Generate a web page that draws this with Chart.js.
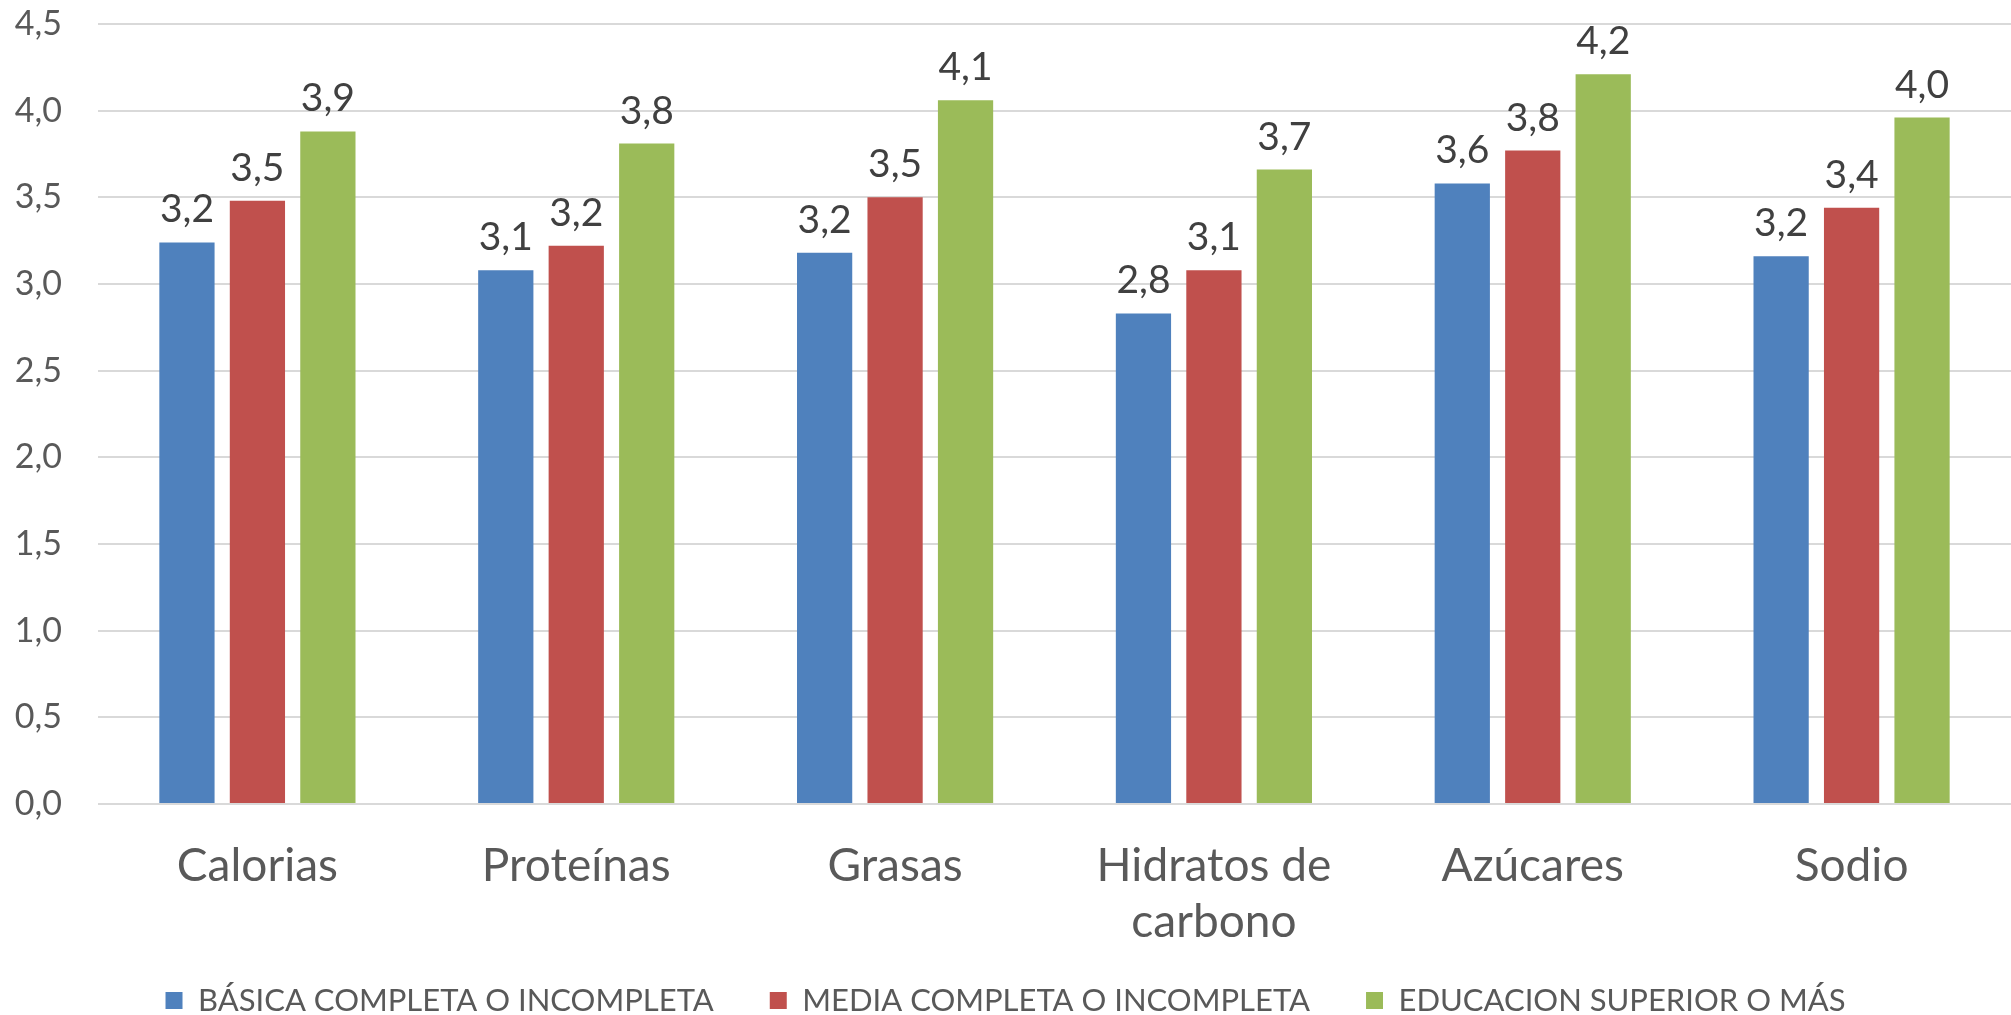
<!DOCTYPE html>
<html>
<head>
<meta charset="utf-8">
<script src="https://cdn.jsdelivr.net/npm/chart.js@4"></script>
<style>
    html, body { margin: 0; padding: 0; background: #fff; }
    #wrap { width: 2011px; height: 1015px; }
</style>
</head>
<body>
<div id="wrap"><canvas id="chart"></canvas></div>
<script>
const categories = ["Calorias", "Proteínas", "Grasas", ["Hidratos de", "carbono"], "Azúcares", "Sodio"];
const basica = [3.24, 3.08, 3.18, 2.83, 3.58, 3.16];
const media = [3.48, 3.22, 3.50, 3.08, 3.77, 3.44];
const superior = [3.88, 3.81, 4.06, 3.66, 4.21, 3.96];
const seriesNames = ["BÁSICA COMPLETA O INCOMPLETA", "MEDIA COMPLETA O INCOMPLETA", "EDUCACION SUPERIOR O MÁS"];

const FONT = "Lato, 'Open Sans', sans-serif";

function fmt(v) {
    return Number(v).toFixed(1).replace('.', ',');
}

// draws the value above each bar
const valueLabels = {
    id: 'valueLabels',
    afterDatasetsDraw(chart) {
        const ctx = chart.ctx;
        ctx.save();
        ctx.font = "39px " + FONT;
        ctx.fillStyle = "#404040";
        ctx.textAlign = "center";
        ctx.textBaseline = "alphabetic";
        chart.data.datasets.forEach((ds, i) => {
            chart.getDatasetMeta(i).data.forEach((bar, j) => {
                ctx.fillText(fmt(ds.data[j]), bar.x, bar.y - 20);
            });
        });
        ctx.restore();
    }
};

const ds = (label, data, color) => ({
    label: label, data: data, backgroundColor: color,
    barPercentage: 0.784, categoryPercentage: 0.663
});

new Chart(document.getElementById("chart"), {
    type: 'bar',
    data: {
        labels: categories,
        datasets: [
            ds(seriesNames[0], basica, "#4F81BD"),
            ds(seriesNames[1], media, "#C0504D"),
            ds(seriesNames[2], superior, "#9BBB59")
        ]
    },
    options: {
        responsive: true,
        maintainAspectRatio: false,
        animation: false,
        layout: { padding: { top: 24, right: 0, left: 0, bottom: -11 } },
        plugins: {
            tooltip: { enabled: false },
            legend: {
                position: 'bottom',
                labels: {
                    boxWidth: 17, boxHeight: 17, padding: 56,
                    color: "#595959",
                    font: { family: FONT, size: 31 }
                }
            }
        },
        scales: {
            x: {
                grid: { display: false },
                border: { display: false },
                ticks: {
                    color: "#595959",
                    padding: 27,
                    maxRotation: 0,
                    font: { family: FONT, size: 46, lineHeight: 1.2 }
                },
                afterFit(scale) {
                    scale.height = 125;
                    // let the two-line label run below the axis box
                    scale._computeLabelArea = () => null;
                }
            },
            y: {
                min: 0, max: 4.5,
                grid: { color: "#D9D9D9", lineWidth: 2, drawTicks: false },
                border: { display: false },
                ticks: {
                    stepSize: 0.5,
                    color: "#595959",
                    padding: 36,
                    font: { family: FONT, size: 34 },
                    callback: v => fmt(v)
                },
                afterFit(scale) {
                    scale.width = 98;
                    scale.paddingTop = 0;
                    scale.paddingBottom = 0;
                }
            }
        }
    },
    plugins: [valueLabels]
});
</script>
</body>
</html>
